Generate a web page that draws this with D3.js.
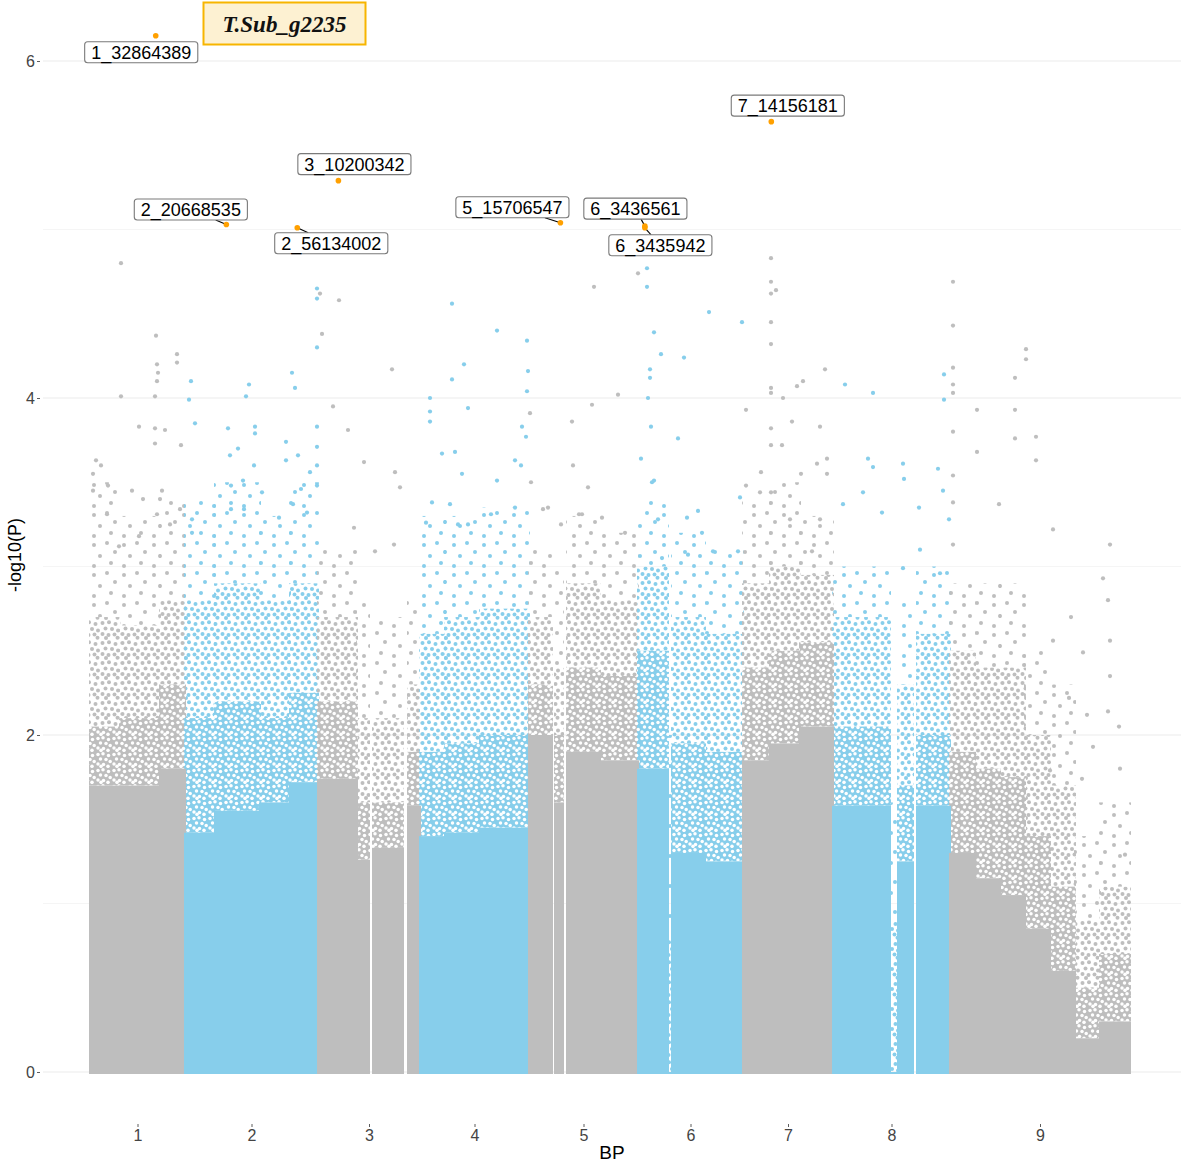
<!DOCTYPE html>
<html>
<head>
<meta charset="utf-8">
<script src="https://cdn.jsdelivr.net/npm/d3@7"></script>
<style>
  body { margin: 0; background: #fff; }
  svg { display: block; }
  text { font-family: "Liberation Sans", Arial, sans-serif; }
</style>
</head>
<body>
<svg id="manhattan" width="1181" height="1163"></svg>
<script>
// chromosomes and their lengths (Mb)
var chromosomes = ["1", "2", "3", "4", "5", "6", "7", "8", "9"];
var chromLengthMb = [47.5, 66.5, 51, 54.5, 54.5, 52.5, 45, 58.5, 90];

// bulk of the SNP cloud, read per stretch of each chromosome (-log10 P):
// top of the solid band, of the heavy band, of the medium band, of the thin band
var segChrom  = [1, 1, 1,  2, 2, 2, 2,  3, 3, 3, 3,  4, 4, 4,  5, 5, 5, 5,  6, 6, 6, 6,  7, 7, 7,  8, 8, 8, 8,  9, 9, 9, 9, 9, 9, 9];
var segStart  = [0, 15, 35,  0, 15, 37.5, 52.5,  0, 19.5, 27.5, 45,  0, 12.5, 30,  0, 13, 19, 35.5,  0, 15, 17, 33.5,  0, 13.5, 28.5,  0, 28.5, 32.5, 42,  0, 12.5, 25, 37.5, 50, 62.5, 75];
var segEnd    = [15, 35, 47.5,  15, 37.5, 52.5, 66.5,  19.5, 25.5, 42.5, 51,  12.5, 30, 54.5,  11.5, 17, 35.5, 54.5,  15, 17, 33.5, 52.5,  13.5, 28.5, 45,  28.5, 32.5, 40, 58.5,  12.5, 25, 37.5, 50, 62.5, 75, 90];
var segSolid  = [1.7, 1.7, 1.8,  1.42, 1.55, 1.6, 1.72,  1.74, 1.26, 1.33, 1.58,  1.4, 1.42, 1.45,  2.0, 1.6, 1.9, 1.85,  1.8, 0, 1.3, 1.25,  1.85, 1.95, 2.05,  1.58, 0, 1.25, 1.58,  1.3, 1.15, 1.05, 0.85, 0.6, 0.2, 0.3];
var segHeavy  = [2.05, 2.1, 2.3,  2.1, 2.2, 2.1, 2.25,  2.2, 1.6, 1.6, 1.9,  1.9, 1.95, 2.0,  2.3, 2.0, 2.4, 2.35,  2.5, 0, 1.95, 1.9,  2.4, 2.5, 2.55,  2.05, 0, 1.7, 2.0,  1.9, 1.8, 1.75, 1.4, 1.1, 0.5, 0.7];
var segMedium = [2.7, 2.65, 2.8,  2.8, 2.9, 2.8, 2.9,  2.7, 2.1, 2.1, 2.3,  2.6, 2.7, 2.75,  2.7, 2.4, 2.9, 2.8,  3.0, 0.8, 2.7, 2.6,  2.9, 3.0, 2.95,  2.7, 0.9, 2.3, 2.6,  2.5, 2.4, 2.4, 2.0, 1.7, 0.9, 1.1];
var segLight  = [3.5, 3.3, 3.4,  3.4, 3.5, 3.3, 3.5,  3.1, 2.8, 2.7, 2.8,  3.3, 3.3, 3.35,  3.1, 3.0, 3.3, 3.2,  3.4, 2.0, 3.2, 3.1,  3.4, 3.5, 3.3,  3.0, 1.6, 2.8, 3.0,  2.9, 2.9, 2.9, 2.5, 2.3, 1.4, 1.6];

// isolated high SNPs [chromosome, position Mb, -log10 P]
var topSnps = [
  [1, 15.5, 4.80], [1, 33, 4.37], [1, 33.5, 4.20], [1, 34, 4.15], [1, 33.5, 4.10], [1, 43.5, 4.26], [1, 43.5, 4.21],
  [1, 15.5, 4.01], [1, 32.5, 4.01], [1, 24.5, 3.83], [1, 32.5, 3.82], [1, 37.5, 3.81], [1, 32.5, 3.73], [1, 45.5, 3.72],
  [1, 3, 3.63], [1, 5.5, 3.60], [1, 1.5, 3.55], [1, 1.5, 3.45], [1, 9, 3.48], [1, 21, 3.45], [1, 36, 3.45], [1, 26.5, 3.40],
  [1, 35, 3.40], [1, 33.5, 3.31], [1, 45, 3.34], [1, 40, 3.25], [1, 8.5, 3.31], [1, 14.5, 3.12], [1, 24.5, 3.18],
  [2, 3, 4.10], [2, 2, 3.99], [2, 5, 3.85], [2, 21.5, 3.82], [2, 22.5, 3.66], [2, 26.5, 3.70], [2, 32, 4.08], [2, 30.5, 4.01],
  [2, 35, 3.83], [2, 35, 3.79], [2, 29, 3.51], [2, 34.5, 3.60], [2, 38.5, 3.44], [2, 50.5, 3.74], [2, 50.5, 3.63],
  [2, 56.5, 3.66], [2, 58, 3.46], [2, 62.5, 3.56], [2, 66, 3.83], [2, 66, 3.71], [2, 66, 3.60], [2, 66, 3.48],
  [2, 53.5, 4.15], [2, 55, 4.06], [2, 66, 4.65], [2, 66, 4.59], [2, 66, 4.30], [2, 23, 3.48], [2, 29.5, 3.34],
  [2, 23, 3.34], [2, 3.5, 3.28], [2, 3.5, 3.20], [2, 47, 3.29], [2, 54, 3.37], [2, 61, 3.32],
  [3, 1, 4.62], [3, 10.5, 4.58], [3, 2, 4.38], [3, 7.5, 3.95], [3, 37, 4.17], [3, 38.5, 3.56], [3, 41, 3.47],
  [3, 23, 3.62], [3, 15, 3.81], [3, 18, 3.23], [3, 28.5, 3.09], [3, 38, 3.13],
  [4, 16, 4.56], [4, 38.5, 4.40], [4, 53.5, 4.34], [4, 22, 4.20], [4, 16, 4.11], [4, 54, 4.16], [4, 53.5, 4.04],
  [4, 5, 4.00], [4, 5, 3.92], [4, 5, 3.86], [4, 24, 3.94], [4, 11, 3.67], [4, 17.5, 3.68], [4, 21, 3.55],
  [4, 38.5, 3.51], [4, 51, 3.83], [4, 53, 3.77], [4, 47.5, 3.63], [4, 50.5, 3.60], [4, 15, 3.37], [4, 6, 3.38],
  [4, 3, 3.26], [4, 19, 3.25], [4, 24, 3.25], [4, 35.5, 3.31], [4, 47.5, 3.35],
  [5, 32.5, 4.66], [5, 31.5, 3.96], [5, 44.5, 4.02], [5, 21.5, 3.86], [5, 22, 3.60], [5, 29.5, 3.47], [5, 25, 3.31],
  [5, 0.5, 3.91], [5, 1, 3.50], [5, 7, 3.34], [5, 9.5, 3.35], [5, 16, 3.25], [5, 26.5, 3.31], [5, 36.5, 3.29],
  [5, 48, 3.20], [5, 54.5, 4.74],
  [6, 4.5, 4.77], [6, 4.5, 4.66], [6, 8, 4.39], [6, 11.5, 4.26], [6, 6, 4.17], [6, 6, 4.12], [6, 5, 4.00],
  [6, 6.5, 3.83], [6, 1.5, 3.64], [6, 7, 3.50], [6, 20, 3.76], [6, 35.5, 4.51], [6, 23, 4.24], [6, 52, 4.45],
  [6, 30, 3.33], [6, 24.5, 3.29], [6, 8, 3.51], [6, 10, 3.28], [6, 12, 3.05], [6, 32, 3.20], [6, 37.5, 3.09],
  [6, 50, 3.09], [6, 51, 3.41], [6, 25, 3.07],
  [7, 14, 4.83], [7, 14, 4.69], [7, 16.5, 4.64], [7, 14, 4.62], [7, 14, 4.45], [7, 14, 4.32], [7, 14, 4.06],
  [7, 14, 4.03], [7, 20, 4.00], [7, 41, 4.17], [7, 30, 4.10], [7, 27, 4.07], [7, 1.5, 3.93], [7, 14, 3.82],
  [7, 38.5, 3.83], [7, 24.5, 3.86], [7, 14, 3.72], [7, 42, 3.64], [7, 14, 3.44], [7, 1.5, 3.48], [7, 9, 3.56],
  [7, 37, 3.61], [7, 42, 3.55], [7, 19.5, 3.72], [7, 8.5, 3.44], [7, 29, 3.55], [7, 23.5, 3.28], [7, 38.5, 3.28],
  [7, 34.5, 3.09],
  [8, 6, 4.08], [8, 20, 4.03], [8, 17.5, 3.64], [8, 20, 3.59], [8, 35, 3.61], [8, 35.5, 3.52], [8, 52.5, 3.58],
  [8, 55.5, 4.14], [8, 55.5, 3.99], [8, 58, 3.28], [8, 43, 3.35], [8, 5, 3.37], [8, 15, 3.44], [8, 24.5, 3.32],
  [8, 43.5, 3.10], [8, 55, 3.45], [8, 53.5, 2.96], [8, 35, 2.99],
  [9, 1.5, 4.69], [9, 1.5, 4.43], [9, 1.5, 4.18], [9, 1.5, 4.08], [9, 1.5, 4.03], [9, 1.5, 3.80], [9, 1.5, 3.54],
  [9, 1.5, 3.38], [9, 1.5, 3.13], [9, 32.5, 4.12], [9, 32.5, 3.93], [9, 38, 4.29], [9, 38, 4.23], [9, 43, 3.77],
  [9, 43, 3.63], [9, 32.5, 3.76], [9, 13.5, 3.68], [9, 13.5, 3.93], [9, 24.5, 3.37], [9, 51.5, 3.22], [9, 80, 3.13],
  [9, 76.5, 2.93], [9, 79, 2.80], [9, 80, 2.56], [9, 60.5, 2.70], [9, 66.5, 2.49], [9, 80, 2.35], [9, 79, 2.14],
  [9, 84.5, 2.05], [9, 68.5, 2.12], [9, 71.5, 1.93], [9, 85, 1.80], [9, 87.5, 1.29], [9, 66, 1.74], [9, 51.5, 2.56],
  [9, 59.5, 2.22], [9, 50, 1.79]
];

// labelled top hits
var hitLabels = ["1_32864389", "2_20668535", "2_56134002", "3_10200342", "5_15706547", "6_3436561", "6_3435942", "7_14156181"];
var hitChrom  = [1, 2, 2, 3, 5, 6, 6, 7];
var hitMb     = [32.864389, 20.668535, 56.134002, 10.200342, 15.706547, 3.436561, 3.435942, 14.156181];
var hitLogP   = [6.15, 5.03, 5.01, 5.29, 5.04, 5.02, 5.01, 5.64];

var yTicks = [0, 2, 4, 6];
var title = "T.Sub_g2235";

// ---- layout ----
var svg = d3.select("#manhattan"),
    width = 1181,
    height = 1163;
var panel = {left: 43, right: 1181, bottom: 1124};
var grey = "#bebebe", blue = "#87ceeb", orange = "#ffa000";

var chromStart = [0];
chromLengthMb.forEach(function(l, i) { chromStart.push(chromStart[i] + l); });

var x = d3.scaleLinear().domain([0, chromStart[chromStart.length - 1]]).range([90, 1130]);
var y = d3.scaleLinear().domain([0, 6]).range([1072, 61]);
var colourOf = function(c) { return (c % 2 === 1) ? grey : blue; };
var tag = function(c) { return (c % 2 === 1) ? "g" : "b"; };
var gx = function(c, mb) { return x(chromStart[c - 1] + mb); };

// textures standing in for the crowded points
var defs = svg.append("defs");
function dotPattern(id, size, dots, colour, background, r) {
  var p = defs.append("pattern").attr("id", id)
    .attr("patternUnits", "userSpaceOnUse")
    .attr("width", size).attr("height", size);
  if (background) p.append("rect").attr("width", size).attr("height", size).attr("fill", background);
  dots.forEach(function(d) {
    p.append("circle").attr("cx", d[0]).attr("cy", d[1]).attr("r", r).attr("fill", colour);
  });
}
var heavyHoles = [[2, 2.5], [7, 1.8], [12.5, 3.5], [4.5, 7], [10, 7.5], [14.2, 9.5], [2, 12], [7.5, 12.5], [12, 14.3], [5, 14.3]];
var mediumDots = [[2.5, 3], [9, 2.2], [15.5, 4], [5.5, 8.5], [12, 9], [18, 10.5], [2.5, 14], [8.5, 15], [14.5, 14.5], [6, 18], [17.5, 17.8]];
var lightDots = [[4, 5], [17, 3], [25, 12], [10, 16], [21, 23], [4, 26]];
[[grey, "g"], [blue, "b"]].forEach(function(c) {
  dotPattern("heavy-" + c[1], 16, heavyHoles, "#fff", c[0], 1.75);
  dotPattern("medium-" + c[1], 20, mediumDots, c[0], null, 2);
  dotPattern("light-" + c[1], 30, lightDots, c[0], null, 2);
});

// horizontal grid
svg.append("g").selectAll("line")
  .data(d3.range(0, 7))
  .enter().append("line")
  .attr("x1", panel.left).attr("x2", panel.right)
  .attr("y1", function(d) { return y(d); }).attr("y2", function(d) { return y(d); })
  .attr("stroke", function(d) { return d % 2 === 0 ? "#ebebeb" : "#f3f3f3"; })
  .attr("stroke-width", function(d) { return d % 2 === 0 ? 1.1 : 0.8; });

// bulk cloud, one band per layer
var segs = segChrom.map(function(c, i) {
  return {c: c, s: segStart[i], e: segEnd[i],
          levels: [0, segSolid[i], segHeavy[i], segMedium[i], segLight[i]]};
});
var bands = ["solid", "heavy", "medium", "light"];
var cloud = svg.append("g");
bands.slice().reverse().forEach(function(band) {
  var k = bands.indexOf(band);
  cloud.selectAll("rect." + band).data(segs).enter().append("rect")
    .attr("class", band)
    .attr("x", function(d) { return gx(d.c, d.s) - 1; })
    .attr("width", function(d) { return gx(d.c, d.e) - gx(d.c, d.s) + 2; })
    .attr("y", function(d) { return y(d.levels[k + 1]); })
    .attr("height", function(d) { return Math.max(0, y(d.levels[k]) - y(d.levels[k + 1]) + (k === 0 ? 2 : 0)); })
    .attr("fill", function(d) { return k === 0 ? colourOf(d.c) : "url(#" + band + "-" + tag(d.c) + ")"; });
});

// isolated SNPs
svg.append("g").selectAll("circle")
  .data(topSnps)
  .enter().append("circle")
  .attr("cx", function(d) { return gx(d[0], d[1]); })
  .attr("cy", function(d) { return y(d[2]); })
  .attr("r", 2.1)
  .attr("fill", function(d) { return colourOf(d[0]); });

// highlighted hits
var hits = hitLabels.map(function(l, i) {
  return {label: l, px: gx(hitChrom[i], hitMb[i]), py: y(hitLogP[i])};
});
// label placement relative to the point (repelled labels), px
var labelNudge = [[-14.5, 16.5], [-35.5, -15], [34, 15.5], [16, -16.5], [-48, -15.5], [-9.5, -17.5], [15.5, 17.5], [16.5, -16]];
var showSegment = [false, true, true, false, true, true, true, false];

var segLayer = svg.append("g");
svg.append("g").selectAll("circle")
  .data(hits).enter().append("circle")
  .attr("cx", function(d) { return d.px; })
  .attr("cy", function(d) { return d.py; })
  .attr("r", 2.8)
  .attr("fill", orange);

var labelLayer = svg.append("g");
hits.forEach(function(d, i) {
  var cx = d.px + labelNudge[i][0], cy = d.py + labelNudge[i][1];
  var g = labelLayer.append("g");
  var rect = g.append("rect");
  var t = g.append("text")
    .attr("x", cx).attr("y", cy).attr("dy", "0.36em")
    .attr("text-anchor", "middle")
    .attr("font-size", 18).attr("fill", "#000")
    .text(d.label);
  var w = t.node().getComputedTextLength() + 13, h = 21;
  rect.attr("x", cx - w / 2).attr("y", cy - h / 2).attr("width", w).attr("height", h)
    .attr("rx", 3).attr("fill", "#fff").attr("stroke", "#7a7a7a").attr("stroke-width", 1.1);
  if (showSegment[i]) {
    // segment from the point toward the label centre, stopping at the box edge
    var dx = cx - d.px, dy = cy - d.py;
    var tx = Math.abs(dx) > w / 2 ? (Math.abs(dx) - w / 2) / Math.abs(dx) : 0;
    var ty = Math.abs(dy) > h / 2 ? (Math.abs(dy) - h / 2) / Math.abs(dy) : 0;
    var tt = Math.max(tx, ty);
    segLayer.append("line")
      .attr("x1", d.px).attr("y1", d.py)
      .attr("x2", d.px + dx * tt).attr("y2", d.py + dy * tt)
      .attr("stroke", "#000").attr("stroke-width", 1.1);
  }
});

// axes
var yAxis = svg.append("g")
  .attr("transform", "translate(40,0)")
  .call(d3.axisLeft(y).tickValues(yTicks).tickSize(3).tickPadding(2).tickFormat(d3.format("d")));
var xAxis = svg.append("g")
  .attr("transform", "translate(0," + panel.bottom + ")")
  .call(d3.axisBottom(x)
    .tickValues(chromosomes.map(function(c, i) { return chromStart[i] + chromLengthMb[i] / 2; }))
    .tickFormat(function(d, i) { return chromosomes[i]; })
    .tickSize(3).tickPadding(3));
[yAxis, xAxis].forEach(function(a) {
  a.select(".domain").remove();
  a.selectAll(".tick line").attr("stroke", "#333").attr("stroke-width", 0.8);
  a.selectAll(".tick text").attr("font-size", 16).attr("fill", "#444")
    .attr("font-family", "Liberation Sans, Arial, sans-serif");
});

svg.append("text")
  .attr("x", (panel.left + panel.right) / 2).attr("y", 1159)
  .attr("text-anchor", "middle").attr("font-size", 19).attr("fill", "#000")
  .text("BP");
svg.append("text")
  .attr("transform", "translate(21,555) rotate(-90)")
  .attr("text-anchor", "middle").attr("font-size", 18).attr("fill", "#000")
  .text("-log10(P)");

// title tag
svg.append("rect")
  .attr("x", 203.5).attr("y", 2.5).attr("width", 162).attr("height", 42)
  .attr("fill", "#fdf1d2").attr("stroke", "#f7b500").attr("stroke-width", 2);
svg.append("text")
  .attr("x", 284.5).attr("y", 24).attr("dy", "0.35em")
  .attr("text-anchor", "middle")
  .style("font-family", "'Liberation Serif', 'Times New Roman', serif")
  .style("font-weight", "bold").style("font-style", "italic")
  .attr("font-size", 23).attr("fill", "#111")
  .text(title);
</script>
</body>
</html>
